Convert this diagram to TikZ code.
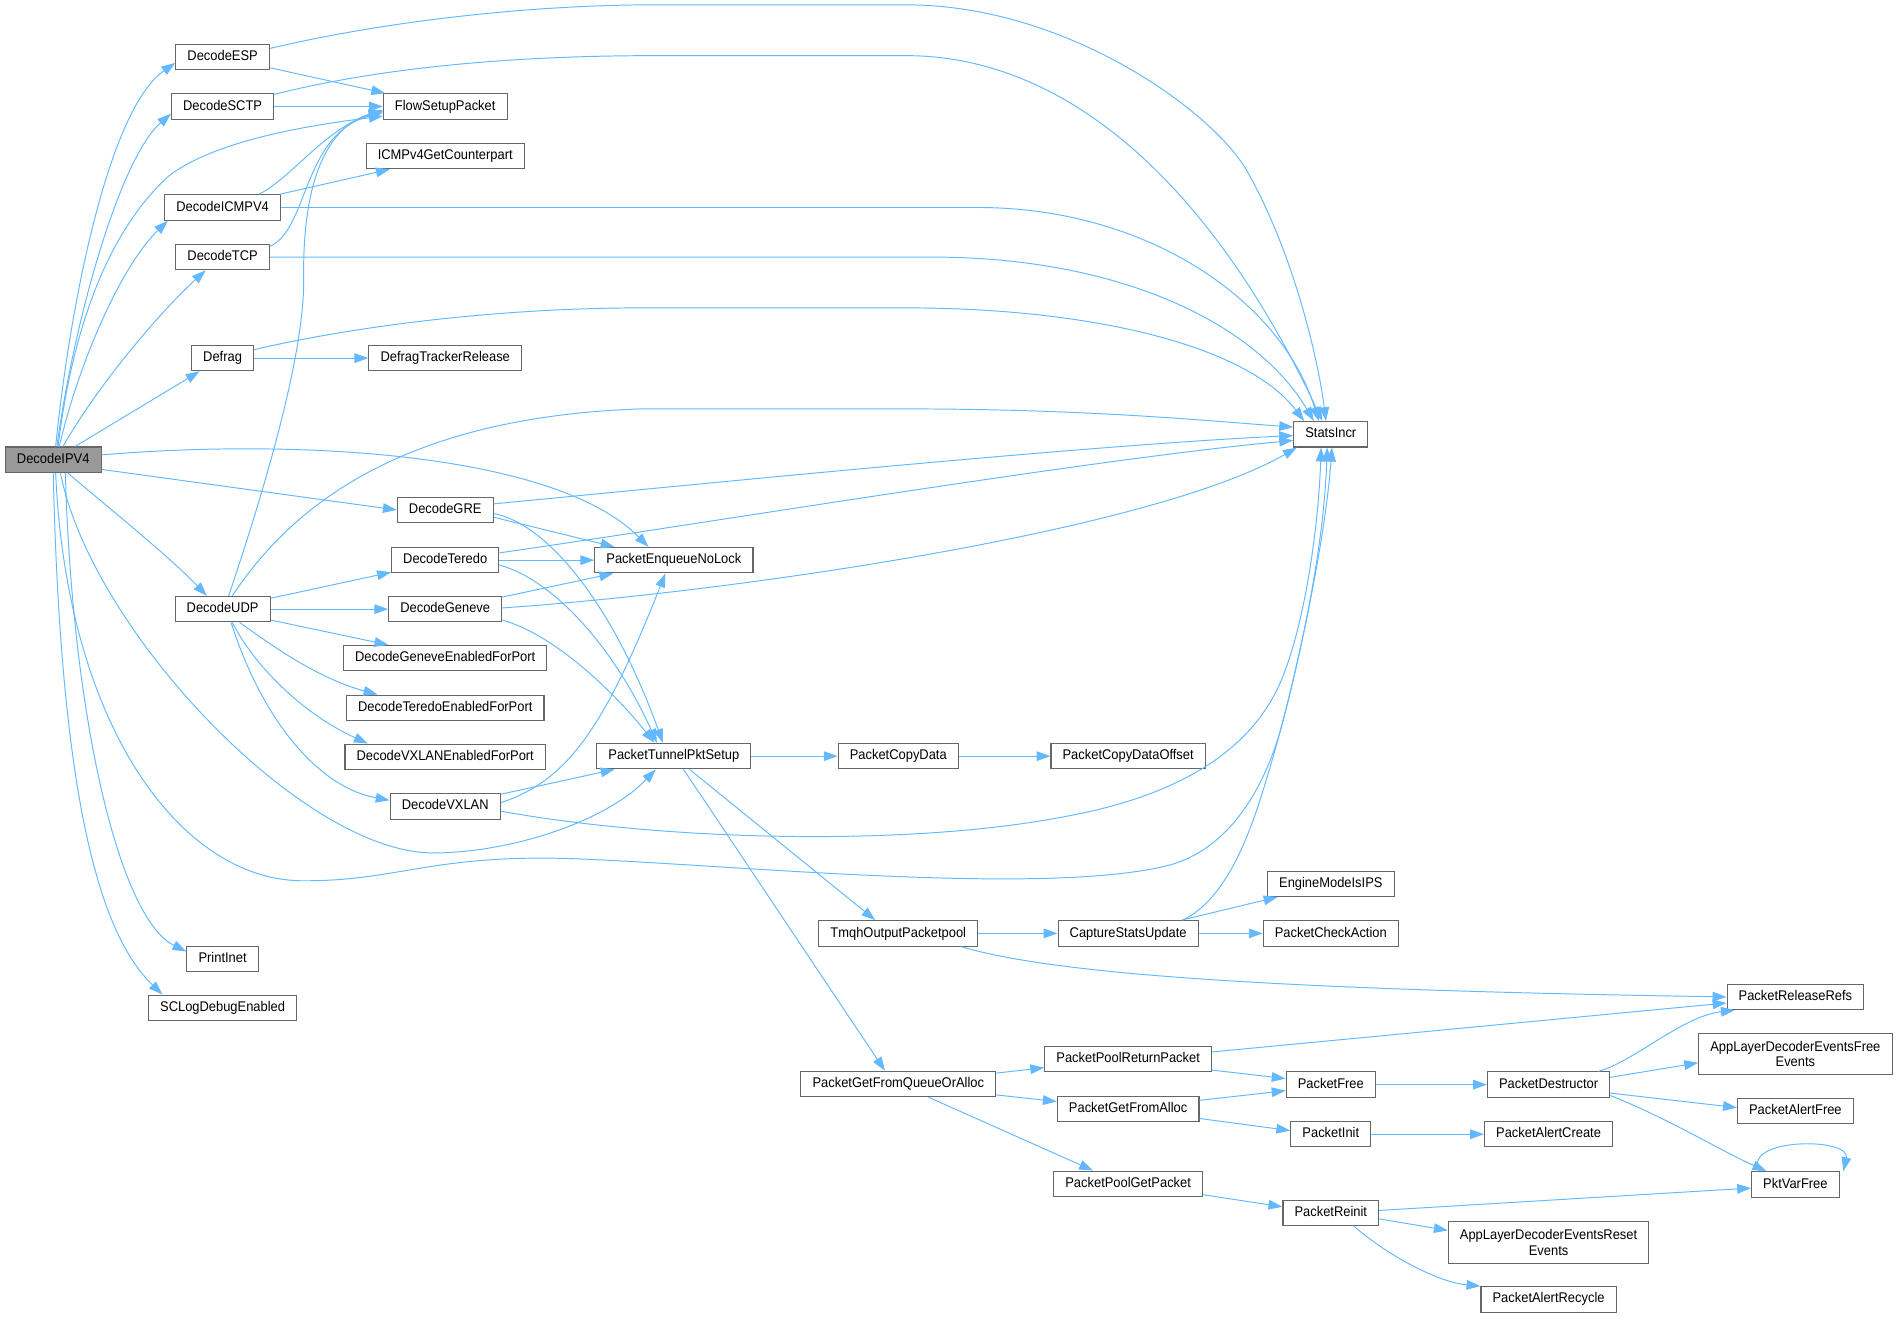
\documentclass[tikz,border=0pt]{standalone}
\usepackage{fontspec}
\setmainfont{Liberation Sans}[FakeStretch=0.92]
\usetikzlibrary{arrows.meta}
\definecolor{edgeblue}{HTML}{63B8FF}
\definecolor{boxgray}{HTML}{666666}
\definecolor{rootgray}{HTML}{999999}
\tikzset{
  fbase/.style={draw=boxgray, fill=white, line width=0.9pt, inner xsep=9.6pt, inner ysep=0pt, font=\fontsize{11.6}{12.5}\selectfont},
  fnode/.style={fbase, minimum height=21pt, text height=8.5pt, text depth=2.5pt},
  fnodetwo/.style={fbase, minimum height=34pt, align=center},
  call/.style={draw=edgeblue, line width=0.8pt, -{Triangle[length=11.5pt,width=8pt]}}
}
\begin{document}
\begin{tikzpicture}[x=1pt,y=-1pt]
\useasboundingbox (0,0) rectangle (1568,1089);
  \node[fnode, fill=rootgray] (DecodeIPV4) at (44,380) {DecodeIPV4};
  \node[fnode] (DecodeESP) at (184,47) {DecodeESP};
  \node[fnode] (DecodeSCTP) at (184,88) {DecodeSCTP};
  \node[fnode] (DecodeICMPV4) at (184,171.5) {DecodeICMPV4};
  \node[fnode] (DecodeTCP) at (184,212.5) {DecodeTCP};
  \node[fnode] (Defrag) at (184,296) {Defrag};
  \node[fnode] (DecodeUDP) at (184,503.5) {DecodeUDP};
  \node[fnode] (PrintInet) at (184,792.5) {PrintInet};
  \node[fnode] (SCLogDebugEnabled) at (184,833) {SCLogDebugEnabled};
  \node[fnode] (FlowSetupPacket) at (368,88) {FlowSetupPacket};
  \node[fnode] (ICMPv4GetCounterpart) at (368,129) {ICMPv4GetCounterpart};
  \node[fnode] (DefragTrackerRelease) at (368,296) {DefragTrackerRelease};
  \node[fnode] (DecodeGRE) at (368,421.5) {DecodeGRE};
  \node[fnode] (DecodeTeredo) at (368,463) {DecodeTeredo};
  \node[fnode] (DecodeGeneve) at (368,503.5) {DecodeGeneve};
  \node[fnode] (GeneveEnabled) at (368,544) {DecodeGeneveEnabledForPort};
  \node[fnode] (TeredoEnabled) at (368,585) {DecodeTeredoEnabledForPort};
  \node[fnode] (VXLANEnabled) at (368,625.5) {DecodeVXLANEnabledForPort};
  \node[fnode] (DecodeVXLAN) at (368,666.5) {DecodeVXLAN};
  \node[fnode] (PacketEnqueueNoLock) at (557,463) {PacketEnqueueNoLock};
  \node[fnode] (PacketTunnelPktSetup) at (557,625) {PacketTunnelPktSetup};
  \node[fnode] (PacketCopyData) at (742.5,625) {PacketCopyData};
  \node[fnode] (TmqhOutputPacketpool) at (742.5,771.5) {TmqhOutputPacketpool};
  \node[fnode] (PacketGetFromQueueOrAlloc) at (742.5,896) {PacketGetFromQueueOrAlloc};
  \node[fnode] (PacketCopyDataOffset) at (932.5,625) {PacketCopyDataOffset};
  \node[fnode] (CaptureStatsUpdate) at (932.5,771.5) {CaptureStatsUpdate};
  \node[fnode] (PacketPoolReturnPacket) at (932.5,875.5) {PacketPoolReturnPacket};
  \node[fnode] (PacketGetFromAlloc) at (932.5,916.5) {PacketGetFromAlloc};
  \node[fnode] (PacketPoolGetPacket) at (932.5,978.5) {PacketPoolGetPacket};
  \node[fnode] (StatsIncr) at (1100,359) {StatsIncr};
  \node[fnode] (EngineModeIsIPS) at (1100,730.5) {EngineModeIsIPS};
  \node[fnode] (PacketCheckAction) at (1100,771.5) {PacketCheckAction};
  \node[fnode] (PacketFree) at (1100,896.5) {PacketFree};
  \node[fnode] (PacketInit) at (1100,937.5) {PacketInit};
  \node[fnode] (PacketReinit) at (1100,1002.5) {PacketReinit};
  \node[fnode] (PacketDestructor) at (1280,896.5) {PacketDestructor};
  \node[fnode] (PacketAlertCreate) at (1280,937.5) {PacketAlertCreate};
  \node[fnodetwo] (EventsReset) at (1280,1027) {AppLayerDecoderEventsReset\\Events};
  \node[fnode] (PacketAlertRecycle) at (1280,1074) {PacketAlertRecycle};
  \node[fnode] (PacketReleaseRefs) at (1484,824) {PacketReleaseRefs};
  \node[fnodetwo] (EventsFree) at (1484,871.5) {AppLayerDecoderEventsFree\\Events};
  \node[fnode] (PacketAlertFree) at (1484,918.5) {PacketAlertFree};
  \node[fnode] (PktVarFree) at (1484,979) {PktVarFree};

  \draw[call] ([xshift=2pt]DecodeIPV4.north) .. controls (58,250) and (90,90) .. ([yshift=-5pt]DecodeESP.west);
  \draw[call] ([xshift=3pt]DecodeIPV4.north) .. controls (62,260) and (100,130) .. ([yshift=-6pt]DecodeSCTP.west);
  \draw[call] ([xshift=4pt]DecodeIPV4.north) .. controls (60,270) and (90,190) .. (140,145) .. controls (180,115) and (260,103) .. ([yshift=-8pt]FlowSetupPacket.west);
  \draw[call] ([xshift=5pt]DecodeIPV4.north) .. controls (65,300) and (100,220) .. ([xshift=3pt]DecodeICMPV4.south west);
  \draw[call] ([xshift=8pt]DecodeIPV4.north) .. controls (80,320) and (130,260) .. ([xshift=-14pt]DecodeTCP.south);
  \draw[call] ([xshift=18pt]DecodeIPV4.north) -- ([xshift=-19pt]Defrag.south);
  \draw[call] ([yshift=-8pt]DecodeIPV4.east) -- (DecodeGRE.west);
  \draw[call] ([yshift=4pt]DecodeIPV4.east) .. controls (250,362) and (460,375) .. ([xshift=-21pt]PacketEnqueueNoLock.north);
  \draw[call] ([xshift=12pt]DecodeIPV4.south) .. controls (90,420) and (140,460) .. ([xshift=-13pt]DecodeUDP.north);
  \draw[call] ([xshift=6pt]DecodeIPV4.south) .. controls (75,520) and (250,705) .. (358,705) .. controls (420,705) and (500,680) .. ([xshift=-15pt]PacketTunnelPktSetup.south);
  \draw[call] ([xshift=2pt]DecodeIPV4.south) .. controls (55,600) and (150,730) .. (253,728) .. controls (330,728) and (360,705) .. (480,710) .. controls (620,716) and (860,740) .. (963,716) .. controls (1010,705) and (1045,660) .. (1062,590) .. controls (1085,500) and (1095,430) .. ([xshift=-3pt]StatsIncr.south);
  \draw[call] ([xshift=10pt]DecodeIPV4.south) .. controls (60,600) and (100,760) .. ([yshift=6pt]PrintInet.west);
  \draw[call] (DecodeIPV4.south) .. controls (50,650) and (80,770) .. ([xshift=12pt]SCLogDebugEnabled.north west);

  \draw[call] ([yshift=-9pt]DecodeESP.east) -- ([xshift=2pt]FlowSetupPacket.north west);
  \draw[call] ([yshift=7pt]DecodeESP.east) .. controls (330,15) and (450,4) .. (540,4) -- (749,4) .. controls (880,4) and (1000,90) .. (1030,140) .. controls (1070,210) and (1090,300) .. ([xshift=-4pt]StatsIncr.north);
  \draw[call] (DecodeSCTP.east) -- (FlowSetupPacket.west);
  \draw[call] ([yshift=10pt]DecodeSCTP.east) .. controls (330,52) and (450,46) .. (540,46) -- (749,46) .. controls (880,46) and (1000,150) .. ([xshift=-7pt]StatsIncr.north);
  \draw[call] ([xshift=30pt]DecodeICMPV4.north) .. controls (240,148) and (270,105) .. ([yshift=-4pt]FlowSetupPacket.west);
  \draw[call] ([xshift=-1pt]DecodeICMPV4.north east) -- ([xshift=20pt]ICMPv4GetCounterpart.south west);
  \draw[call] (DecodeICMPV4.east) -- (808,171.5) .. controls (950,171.5) and (1060,250) .. ([xshift=-10pt]StatsIncr.north);
  \draw[call] ([yshift=-2pt]DecodeTCP.north east) .. controls (255,190) and (250,110) .. ([yshift=-5pt]FlowSetupPacket.west);
  \draw[call] (DecodeTCP.east) -- (770,212.5) .. controls (930,212.5) and (1040,270) .. ([xshift=-14pt]StatsIncr.north);
  \draw[call] (Defrag.east) -- (DefragTrackerRelease.west);
  \draw[call] ([yshift=7pt]Defrag.east) .. controls (300,268) and (420,254.5) .. (529,254.5) -- (749,254.5) .. controls (900,254.5) and (1030,285) .. ([xshift=-22pt]StatsIncr.north);

  \draw[call] ([xshift=5pt]DecodeUDP.north) .. controls (210,430) and (252,300) .. (251,230) .. controls (250,150) and (270,105) .. ([yshift=-3pt]FlowSetupPacket.west);
  \draw[call] ([xshift=8pt]DecodeUDP.north) .. controls (240,420) and (330,345) .. (529,338) -- (749,338) .. controls (900,338) and (1000,348) .. ([yshift=6pt]StatsIncr.west);
  \draw[call] ([yshift=9pt]DecodeUDP.east) -- ([yshift=-10pt]DecodeTeredo.west);
  \draw[call] (DecodeUDP.east) -- (DecodeGeneve.west);
  \draw[call] ([yshift=-9pt]DecodeUDP.east) -- ([xshift=-47pt]GeneveEnabled.north);
  \draw[call] ([xshift=14pt]DecodeUDP.south) .. controls (220,530) and (260,560) .. ([xshift=-56pt]TeredoEnabled.north);
  \draw[call] ([xshift=8pt]DecodeUDP.south) .. controls (210,550) and (250,590) .. ([xshift=-64pt]VXLANEnabled.north);
  \draw[call] ([xshift=7pt]DecodeUDP.south) .. controls (215,590) and (260,650) .. ([yshift=5pt]DecodeVXLAN.west);

  \draw[call] ([yshift=5pt]DecodeGRE.east) .. controls (600,398) and (900,368) .. ([yshift=-1pt]StatsIncr.west);
  \draw[call] ([yshift=-6pt]DecodeGRE.east) -- ([xshift=-49pt]PacketEnqueueNoLock.north);
  \draw[call] ([yshift=-3pt]DecodeGRE.east) .. controls (450,432) and (505,495) .. ([xshift=-9pt]PacketTunnelPktSetup.north);
  \draw[call] ([yshift=6pt]DecodeTeredo.east) .. controls (600,430) and (900,380) .. ([yshift=-5pt]StatsIncr.west);
  \draw[call] (DecodeTeredo.east) -- (PacketEnqueueNoLock.west);
  \draw[call] ([yshift=-4pt]DecodeTeredo.east) .. controls (460,480) and (510,540) .. ([xshift=-14pt]PacketTunnelPktSetup.north);
  \draw[call] ([yshift=10pt]DecodeGeneve.east) -- ([xshift=-50pt]PacketEnqueueNoLock.south);
  \draw[call] ([yshift=1pt]DecodeGeneve.east) .. controls (600,490) and (950,440) .. ([xshift=3pt]StatsIncr.south west);
  \draw[call] ([yshift=-9pt]DecodeGeneve.east) .. controls (460,525) and (510,575) .. ([xshift=-16pt]PacketTunnelPktSetup.north);
  \draw[call] ([yshift=10pt]DecodeVXLAN.east) -- ([xshift=-49pt]PacketTunnelPktSetup.south);
  \draw[call] ([yshift=3pt]DecodeVXLAN.east) .. controls (470,645) and (500,600) .. ([xshift=-7pt]PacketEnqueueNoLock.south);
  \draw[call] ([yshift=-4pt]DecodeVXLAN.east) .. controls (550,695) and (750,700) .. (880,675) .. controls (990,655) and (1040,610) .. (1060,560) .. controls (1080,510) and (1090,430) .. ([xshift=-8pt]StatsIncr.south);

  \draw[call] (PacketTunnelPktSetup.east) -- (PacketCopyData.west);
  \draw[call] (PacketCopyData.east) -- (PacketCopyDataOffset.west);
  \draw[call] ([xshift=13pt]PacketTunnelPktSetup.south) -- ([xshift=-19pt]TmqhOutputPacketpool.north);
  \draw[call] ([xshift=8pt]PacketTunnelPktSetup.south) -- ([xshift=-11pt]PacketGetFromQueueOrAlloc.north);
  \draw[call] (TmqhOutputPacketpool.east) -- (CaptureStatsUpdate.west);
  \draw[call] ([xshift=52pt]TmqhOutputPacketpool.south) .. controls (870,805) and (1050,818) .. (PacketReleaseRefs.west);
  \draw[call] ([xshift=44pt]CaptureStatsUpdate.north) -- ([xshift=-44pt]EngineModeIsIPS.south);
  \draw[call] (CaptureStatsUpdate.east) -- (PacketCheckAction.west);
  \draw[call] ([xshift=45pt]CaptureStatsUpdate.north) .. controls (1010,745) and (1030,700) .. (1045,650) .. controls (1070,570) and (1095,450) .. ([xshift=1pt]StatsIncr.south);

  \draw[call] ([yshift=9pt]PacketGetFromQueueOrAlloc.east) -- ([yshift=-7pt]PacketPoolReturnPacket.west);
  \draw[call] ([yshift=-9pt]PacketGetFromQueueOrAlloc.east) -- ([yshift=6pt]PacketGetFromAlloc.west);
  \draw[call] ([xshift=25pt]PacketGetFromQueueOrAlloc.south) -- ([xshift=-29pt]PacketPoolGetPacket.north);
  \draw[call] ([yshift=6pt]PacketPoolReturnPacket.east) -- ([yshift=-5pt]PacketReleaseRefs.west);
  \draw[call] ([yshift=-9pt]PacketPoolReturnPacket.east) -- ([yshift=5pt]PacketFree.west);
  \draw[call] ([yshift=7pt]PacketGetFromAlloc.east) -- ([yshift=-5pt]PacketFree.west);
  \draw[call] ([yshift=-8pt]PacketGetFromAlloc.east) -- ([yshift=3pt]PacketInit.west);
  \draw[call] (PacketFree.east) -- (PacketDestructor.west);
  \draw[call] (PacketInit.east) -- (PacketAlertCreate.west);
  \draw[call] ([xshift=41pt]PacketDestructor.north) .. controls (1350,878) and (1390,840) .. ([xshift=-50pt]PacketReleaseRefs.south);
  \draw[call] ([yshift=6pt]PacketDestructor.east) -- ([yshift=-7pt]EventsFree.west);
  \draw[call] ([yshift=-7pt]PacketDestructor.east) -- ([yshift=3pt]PacketAlertFree.west);
  \draw[call] ([yshift=-9pt]PacketDestructor.east) .. controls (1380,925) and (1420,950) .. ([xshift=-24pt]PktVarFree.north);
  \draw[call] ([xshift=-30pt]PktVarFree.north) .. controls (1440,940) and (1530,940) .. ([xshift=3pt]PktVarFree.north east);
  \draw[call] ([yshift=-9pt]PacketPoolGetPacket.east) -- ([yshift=5pt]PacketReinit.west);
  \draw[call] ([yshift=2pt]PacketReinit.east) -- ([yshift=-3pt]PktVarFree.west);
  \draw[call] ([yshift=-5pt]PacketReinit.east) -- ([yshift=10pt]EventsReset.west);
  \draw[call] ([xshift=19pt]PacketReinit.south) .. controls (1150,1040) and (1190,1060) .. (PacketAlertRecycle.north west);
\end{tikzpicture}
\end{document}
